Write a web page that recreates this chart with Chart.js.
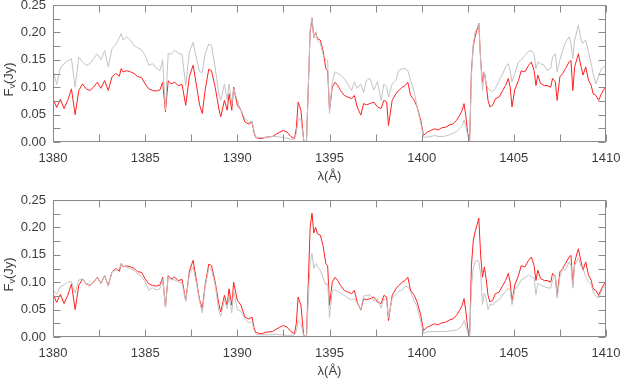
<!DOCTYPE html>
<html><head><meta charset="utf-8">
<script src="https://cdn.jsdelivr.net/npm/chart.js@4"></script>
<style>
html,body{margin:0;padding:0;background:#fff;overflow:hidden;width:621px;height:379px}
canvas{position:absolute;left:0}
#c1{top:0}
#c2{top:190px}
</style></head><body>
<canvas id="c1" width="621" height="190"></canvas>
<canvas id="c2" width="621" height="190"></canvas>
<script>
// Wavelength grid (Angstrom)
const wavelength = [
1380.0,1380.2,1380.4,1380.6,1380.8,1381.0,1381.2,1381.4,1381.6,1381.8,
1382.0,1382.2,1382.4,1382.6,1382.8,1383.0,1383.2,1383.4,1383.6,1383.7,
1383.8,1384.0,1384.2,1384.4,1384.6,1384.8,1385.0,1385.2,1385.4,1385.6,
1385.8,1385.95,1386.1,1386.25,1386.4,1386.6,1386.8,1387.0,1387.2,1387.4,
1387.6,1387.8,1387.95,1388.1,1388.25,1388.45,1388.6,1388.8,1389.0,1389.1,
1389.3,1389.45,1389.55,1389.7,1389.8,1390.0,1390.2,1390.4,1390.6,1390.8,
1390.9,1391.0,1391.3,1391.6,1391.9,1392.1,1392.3,1392.5,1392.7,1392.9,
1393.1,1393.2,1393.3,1393.45,1393.6,1393.75,1393.85,1393.95,1394.05,1394.15,
1394.25,1394.35,1394.5,1394.65,1394.8,1394.9,1395.0,1395.15,1395.3,1395.45,
1395.6,1395.8,1396.0,1396.2,1396.35,1396.5,1396.7,1396.85,1397.0,1397.2,
1397.4,1397.6,1397.8,1397.95,1398.1,1398.2,1398.4,1398.6,1398.75,1398.95,
1399.1,1399.25,1399.4,1399.6,1399.75,1399.95,1400.1,1400.3,1400.5,1400.7,
1400.9,1401.1,1401.3,1401.5,1401.7,1401.9,1402.05,1402.2,1402.3,1402.4,
1402.5,1402.6,1402.7,1402.8,1402.9,1403.0,1403.1,1403.2,1403.3,1403.4,
1403.5,1403.6,1403.7,1403.85,1404.0,1404.2,1404.4,1404.55,1404.7,1404.8,
1404.9,1405.05,1405.25,1405.4,1405.6,1405.8,1405.95,1406.1,1406.2,1406.3,
1406.45,1406.65,1406.8,1407.0,1407.1,1407.25,1407.35,1407.5,1407.65,1407.8,
1408.0,1408.1,1408.2,1408.3,1408.5,1408.65,1408.75,1408.9,1409.05,1409.2,
1409.3,1409.45,1409.6,1409.75,1409.9,1410.0];

// Observed flux (red), same in both panels (Jy)
const observed = [
0.079,0.063,0.078,0.061,0.076,0.097,0.050,0.094,0.106,0.097,
0.094,0.100,0.109,0.098,0.112,0.094,0.119,0.125,0.120,0.134,
0.128,0.130,0.128,0.125,0.119,0.118,0.106,0.097,0.094,0.093,
0.095,0.109,0.055,0.112,0.106,0.109,0.103,0.105,0.067,0.120,
0.140,0.100,0.068,0.052,0.094,0.133,0.130,0.100,0.060,0.046,
0.076,0.058,0.088,0.058,0.100,0.067,0.058,0.037,0.033,0.036,
0.018,0.008,0.006,0.009,0.010,0.014,0.018,0.021,0.018,0.010,
0.006,0.025,0.073,0.058,0.003,0.000,0.100,0.200,0.226,0.190,
0.200,0.188,0.186,0.167,0.134,0.130,0.058,0.100,0.109,0.103,
0.094,0.085,0.082,0.079,0.085,0.064,0.049,0.070,0.068,0.070,
0.073,0.064,0.061,0.076,0.073,0.030,0.076,0.088,0.094,0.100,
0.103,0.109,0.085,0.076,0.064,0.040,0.012,0.018,0.021,0.024,
0.022,0.026,0.027,0.031,0.033,0.040,0.048,0.058,0.070,0.046,
0.015,0.000,0.130,0.175,0.192,0.204,0.217,0.149,0.109,0.128,
0.106,0.076,0.064,0.067,0.079,0.082,0.094,0.103,0.116,0.100,
0.064,0.095,0.112,0.130,0.128,0.140,0.146,0.130,0.103,0.122,
0.107,0.103,0.103,0.100,0.116,0.110,0.076,0.119,0.125,0.134,
0.146,0.149,0.094,0.137,0.161,0.137,0.122,0.137,0.113,0.103,
0.088,0.085,0.076,0.088,0.097,0.100];

// Model spectrum shown in the upper panel (grey)
const modelTop = [
0.131,0.105,0.135,0.143,0.148,0.152,0.100,0.155,0.146,0.140,
0.143,0.152,0.161,0.150,0.167,0.137,0.170,0.178,0.190,0.198,
0.186,0.192,0.186,0.176,0.172,0.168,0.158,0.140,0.143,0.135,
0.130,0.150,0.058,0.162,0.160,0.167,0.162,0.160,0.103,0.165,
0.182,0.150,0.128,0.127,0.160,0.179,0.176,0.135,0.088,0.076,
0.106,0.076,0.106,0.070,0.097,0.076,0.058,0.044,0.036,0.038,
0.021,0.009,0.008,0.009,0.010,0.010,0.009,0.008,0.007,0.005,
0.005,0.015,0.044,0.040,0.004,0.000,0.100,0.206,0.227,0.190,
0.200,0.185,0.180,0.160,0.150,0.148,0.052,0.110,0.128,0.125,
0.122,0.116,0.105,0.094,0.110,0.098,0.106,0.090,0.112,0.116,
0.095,0.110,0.076,0.106,0.100,0.082,0.106,0.112,0.130,0.134,
0.134,0.130,0.112,0.091,0.064,0.034,0.009,0.009,0.010,0.012,
0.010,0.010,0.011,0.013,0.016,0.019,0.024,0.030,0.040,0.028,
0.012,0.000,0.120,0.180,0.200,0.207,0.217,0.150,0.094,0.128,
0.105,0.098,0.094,0.092,0.098,0.112,0.125,0.137,0.143,0.130,
0.110,0.125,0.146,0.150,0.158,0.165,0.167,0.160,0.134,0.146,
0.143,0.140,0.131,0.134,0.155,0.161,0.128,0.150,0.167,0.182,
0.192,0.180,0.152,0.186,0.213,0.186,0.180,0.186,0.164,0.143,
0.125,0.106,0.120,0.134,0.137,0.140];

// Model spectrum shown in the lower panel (grey)
const modelBottom = [
0.086,0.078,0.092,0.095,0.100,0.101,0.080,0.104,0.106,0.098,
0.095,0.100,0.108,0.097,0.113,0.092,0.119,0.122,0.125,0.133,
0.130,0.127,0.125,0.121,0.115,0.110,0.101,0.085,0.090,0.086,
0.088,0.106,0.054,0.110,0.105,0.104,0.101,0.098,0.065,0.115,
0.128,0.095,0.065,0.044,0.090,0.125,0.122,0.095,0.047,0.038,
0.068,0.052,0.074,0.044,0.085,0.050,0.047,0.034,0.026,0.028,
0.013,0.006,0.004,0.004,0.004,0.005,0.004,0.004,0.003,0.003,
0.004,0.010,0.030,0.025,0.002,0.000,0.070,0.135,0.153,0.125,
0.134,0.128,0.122,0.108,0.095,0.098,0.035,0.085,0.086,0.083,
0.080,0.076,0.071,0.068,0.070,0.062,0.050,0.075,0.076,0.077,
0.066,0.070,0.053,0.071,0.065,0.035,0.071,0.077,0.083,0.086,
0.092,0.092,0.082,0.065,0.056,0.028,0.007,0.009,0.010,0.010,
0.010,0.010,0.010,0.011,0.012,0.013,0.016,0.022,0.030,0.020,
0.008,0.000,0.090,0.125,0.137,0.140,0.138,0.115,0.059,0.080,
0.070,0.050,0.060,0.058,0.064,0.068,0.076,0.083,0.089,0.085,
0.059,0.086,0.095,0.104,0.108,0.113,0.110,0.108,0.077,0.098,
0.095,0.092,0.090,0.089,0.104,0.113,0.071,0.110,0.125,0.122,
0.137,0.131,0.089,0.131,0.144,0.128,0.125,0.110,0.101,0.095,
0.083,0.074,0.071,0.083,0.092,0.098];

const xRange = [1380, 1410];
const yRange = [0, 0.25];
const xLabelStep = 5, xMinorStep = 2.5;
const yLabelStep = 0.05, yMinorStep = 0.025;
const xTitle = 'λ(Å)';
const yTitleMain = 'F', yTitleSub = 'ν', yTitleUnit = '(Jy)';

const TEXT = '#3c3c3c', FRAME = '#8a8a8a', RED = '#ff2020', GREY = '#c3c3c3';
const FONT = 'Liberation Sans, Arial, sans-serif';

function pts(arr){ return wavelength.map((w,i)=>({x:w, y:arr[i]})); }

const framePlugin = {
  id:'frame',
  afterDraw(chart){
    const {ctx, chartArea:a, scales:{x,y}} = chart;
    ctx.save();
    ctx.strokeStyle = FRAME; ctx.lineWidth = 1;
    const L = Math.round(a.left)+0.5, R = Math.round(a.right)-0.5;
    const T = Math.round(a.top)+0.5, B = Math.round(a.bottom)-0.5;
    ctx.strokeRect(L, T, R-L, B-T);
    const tl = 7;
    ctx.beginPath();
    for (let v = xRange[0]; v <= xRange[1]+1e-9; v += xMinorStep){
      const px = Math.round(x.getPixelForValue(v))+0.5;
      ctx.moveTo(px,B); ctx.lineTo(px,B-tl);
      ctx.moveTo(px,T); ctx.lineTo(px,T+tl);
    }
    for (let v = yRange[0]; v <= yRange[1]+1e-9; v += yMinorStep){
      const py = Math.round(y.getPixelForValue(v))+0.5;
      ctx.moveTo(L,py); ctx.lineTo(L+tl,py);
      ctx.moveTo(R,py); ctx.lineTo(R-tl,py);
    }
    ctx.stroke();
    // axis titles
    ctx.fillStyle = TEXT;
    ctx.textBaseline = 'middle';
    ctx.font = '13px ' + FONT;
    ctx.textAlign = 'center';
    ctx.fillText(xTitle, (a.left+a.right)/2, a.bottom + 34);
    // y title with subscript
    ctx.save();
    ctx.translate(9, (a.top+a.bottom)/2 + 6);
    ctx.rotate(-Math.PI/2);
    ctx.textAlign = 'left';
    ctx.font = '13px ' + FONT;
    const w1 = ctx.measureText(yTitleMain).width;
    const w3 = ctx.measureText(yTitleUnit).width;
    ctx.font = '9px ' + FONT;
    const w2 = ctx.measureText(yTitleSub).width;
    let sx = -(w1+w2+w3)/2;
    ctx.font = '13px ' + FONT;
    ctx.fillText(yTitleMain, sx, 0); sx += w1;
    ctx.font = '9px ' + FONT;
    ctx.fillText(yTitleSub, sx, 4); sx += w2;
    ctx.font = '13px ' + FONT;
    ctx.fillText(yTitleUnit, sx, 0);
    ctx.restore();
    ctx.restore();
  }
};

function makeChart(id, model, topPad, xHeight){
  return new Chart(document.getElementById(id), {
    type:'line',
    data:{ datasets:[
      {data:pts(model), borderColor:GREY, borderWidth:1, pointRadius:0, fill:false, tension:0},
      {data:pts(observed), borderColor:RED, borderWidth:1, pointRadius:0, fill:false, tension:0}
    ]},
    options:{
      responsive:false, animation:false, events:[],
      layout:{padding:{left:0,right:15,top:topPad,bottom:0}},
      plugins:{legend:{display:false}, tooltip:{enabled:false}},
      scales:{
        x:{type:'linear', min:xRange[0], max:xRange[1],
           grid:{display:false, drawTicks:false}, border:{display:false},
           ticks:{stepSize:xLabelStep, color:TEXT, padding:9, maxRotation:0,
                  font:{family:FONT, size:13}, callback:v=>String(v)},
           afterFit(s){ s.height = xHeight; s.paddingLeft = 0; s.paddingRight = 0; }},
        y:{min:yRange[0], max:yRange[1],
           grid:{display:false, drawTicks:false}, border:{display:false},
           ticks:{stepSize:yLabelStep, color:TEXT, padding:7,
                  font:{family:FONT, size:13}, callback:v=>v.toFixed(2)},
           afterFit(s){ s.width = 53; s.paddingTop = 0; s.paddingBottom = 0; }}
      }
    },
    plugins:[framePlugin]
  });
}
makeChart('c1', modelTop, 5, 48);
makeChart('c2', modelBottom, 10, 43);
</script>
</body></html>
